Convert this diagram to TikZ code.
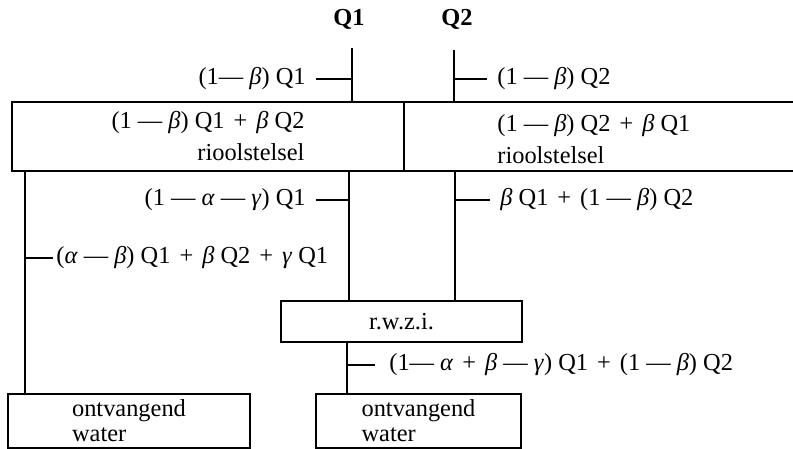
\documentclass[tikz,border=0pt]{standalone}
\usepackage{fontspec}
\setmainfont{Liberation Serif}
\usetikzlibrary{positioning}
\newcommand{\bet}{\textit{β}}
\newcommand{\alp}{\textit{α}}
\newcommand{\gam}{\textit{γ}}
\newcommand{\pl}{\hspace{4.5pt}+\hspace{4.5pt}}

\begin{document}
\begin{tikzpicture}[
  x=0.5pt, y=-0.5pt,
  font=\fontsize{12.2}{16}\selectfont,
  box/.style={draw, line width=0.8pt, inner sep=0pt, outer sep=0pt, align=center},
  flow/.style={inner xsep=5pt, inner ysep=0pt},
  pipe/.style={line width=1pt}
]
\useasboundingbox (0,0) rectangle (793,449);

% inputs
\node[font=\fontsize{12.2}{16}\selectfont\bfseries] (q1) at (349,19) {Q1};
\node[font=\fontsize{12.2}{16}\selectfont\bfseries] (q2) at (457,19) {Q2};
\coordinate (q1in) at (352,48);
\coordinate (q2in) at (454,50);

% boxes
\node[box, minimum width=196pt, minimum height=34.5pt, align=right] (riool1) at (208,136.5) {(1 — \bet) Q1\pl\bet\ Q2\\rioolstelsel};
\node[box, minimum width=199pt, minimum height=34.5pt] (riool2) at (603,136.5) {};
\node[anchor=west, align=left, inner sep=0pt] (riooltxt2) at (497,139) {(1 — \bet) Q2\pl\bet\ Q1\\rioolstelsel};
\node[box, minimum width=120.5pt, minimum height=20.5pt] (rwzi) at (401.5,321.5) {r.w.z.i.};
\node[box, minimum width=121pt, minimum height=27pt, align=left, font=\fontsize{12.2}{12.5}\selectfont] (ontv1) at (129,421) {ontvangend\\water};
\node[box, minimum width=102.5pt, minimum height=27pt, align=left, font=\fontsize{12.2}{12.5}\selectfont] (ontv2) at (418.5,421) {ontvangend\\water};

% pipes
\coordinate (xa) at (25,0);
\coordinate (xb) at (349,0);
\coordinate (xc) at (455,0);
\coordinate (xd) at (347,0);
\draw[pipe] (q1in) -- (q1in |- riool1.north);
\draw[pipe] (q2in) -- (q2in |- riool2.north);
\draw[pipe] (riool1.south -| xa) -- (ontv1.north -| xa);
\draw[pipe] (riool1.south -| xb) -- (rwzi.north -| xb);
\draw[pipe] (riool2.south -| xc) -- (rwzi.north -| xc);
\draw[pipe] (rwzi.south -| xd) -- (ontv2.north -| xd);

% flows
\node[flow, anchor=east] (f1) at (316,79) {(1— \bet) Q1};
\draw[pipe] (f1.east) -- (f1.east -| q1in);
\node[flow, anchor=west] (f2) at (487,79) {(1 — \bet) Q2};
\draw[pipe] (f2.west) -- (f2.west -| q2in);
\node[flow, anchor=east] (f3) at (316,200) {(1 — \alp\ — \gam) Q1};
\draw[pipe] (f3.east) -- (f3.east -| xb);
\node[flow, anchor=west] (f4) at (490,200) {\bet\ Q1\pl(1 — \bet) Q2};
\draw[pipe] (f4.west) -- (f4.west -| xc);
\node[flow, anchor=west, inner xsep=1.5pt] (f5) at (53,258) {(\alp\ — \bet) Q1\pl\bet\ Q2\pl\gam\ Q1};
\draw[pipe] (f5.west) -- (f5.west -| xa);
\node[flow, anchor=west, inner xsep=7pt] (f6) at (375,365) {(1— \alp\pl\bet\ — \gam) Q1\pl(1 — \bet) Q2};
\draw[pipe] (f6.west) -- (f6.west -| xd);
\end{tikzpicture}
\end{document}
